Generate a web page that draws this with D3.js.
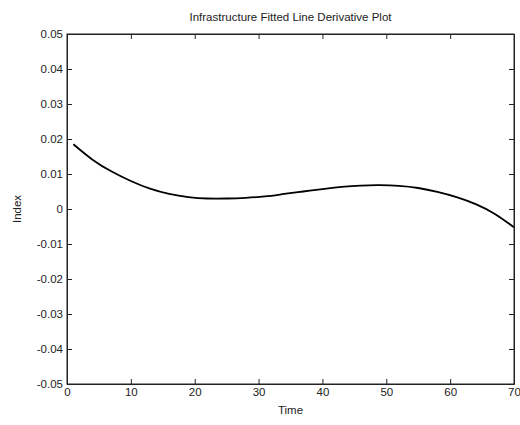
<!DOCTYPE html>
<html>
<head>
<meta charset="utf-8">
<script src="https://cdn.jsdelivr.net/npm/d3@7"></script>
<style>
  body { margin: 0; background: #fff; }
  text { font-family: "Liberation Sans", Arial, sans-serif; fill: #222; }
</style>
</head>
<body>
<svg></svg>
<script>
// values
let times = [1, 4, 7, 10, 13, 16, 19, 22, 25, 28, 31, 34, 37, 40, 43, 46, 49, 52, 55, 58, 61, 64, 67, 70];
let index = [0.0185, 0.0141, 0.0107, 0.0080, 0.0058, 0.0043, 0.0034, 0.0030, 0.0030, 0.0032, 0.0036, 0.0043,
             0.0050, 0.0057, 0.0063, 0.0067, 0.0068, 0.0066, 0.0060, 0.0049, 0.0034, 0.0014, -0.0014, -0.0052];
let xTicks = [0, 10, 20, 30, 40, 50, 60, 70];
let yTicks = [-0.05, -0.04, -0.03, -0.02, -0.01, 0, 0.01, 0.02, 0.03, 0.04, 0.05];

let width = 520;
let height = 425;
let padLeft = 67, padRight = 514, padTop = 34, padBottom = 384;

let svg = d3.select("svg").attr("width", width).attr("height", height);

let xScale = d3.scaleLinear().domain([0, 70]).range([padLeft, padRight]);
let yScale = d3.scaleLinear().domain([-0.05, 0.05]).range([padBottom, padTop]);

// plain hyphen minus like the reference
let fmt = (d) => d === 0 ? "0" : d.toFixed(2);

let drawAxes = () => {
    svg.append("g")
       .attr("transform", "translate(0," + padBottom + ")")
       .call(d3.axisBottom(xScale).tickValues(xTicks).tickSize(-5).tickPadding(4).tickSizeOuter(0))
    svg.append("g")
       .attr("transform", "translate(0," + padTop + ")")
       .call(d3.axisTop(xScale).tickValues(xTicks).tickSize(-5).tickFormat("").tickSizeOuter(0))
    svg.append("g")
       .attr("transform", "translate(" + padLeft + ",0)")
       .call(d3.axisLeft(yScale).tickValues(yTicks).tickFormat(fmt).tickSize(-5).tickPadding(4).tickSizeOuter(0))
    svg.append("g")
       .attr("transform", "translate(" + padRight + ",0)")
       .call(d3.axisRight(yScale).tickValues(yTicks).tickFormat("").tickSize(-5).tickSizeOuter(0))

    svg.selectAll(".tick text").style("font-size", "11.5px").style("font-family", "Liberation Sans, Arial, sans-serif").attr("fill", "#222")
    svg.selectAll(".domain, .tick line").attr("stroke", "#222")

    svg.append("rect")
       .attr("x", padLeft).attr("y", padTop)
       .attr("width", padRight - padLeft).attr("height", padBottom - padTop)
       .attr("fill", "none").attr("stroke", "#222")
}

let drawLine = () => {
    let line = d3.line()
                 .x((d, i) => xScale(times[i]))
                 .y((d) => yScale(d))
                 .curve(d3.curveNatural)
    svg.append("path")
       .datum(index)
       .attr("d", line)
       .attr("fill", "none")
       .attr("stroke", "#000")
       .attr("stroke-width", 1.8)
}

let drawLabels = () => {
    svg.append("text")
       .attr("x", (padLeft + padRight) / 2).attr("y", 21)
       .attr("text-anchor", "middle").style("font-size", "11.5px")
       .text("Infrastructure Fitted Line Derivative Plot")
    svg.append("text")
       .attr("x", (padLeft + padRight) / 2).attr("y", 414)
       .attr("text-anchor", "middle").style("font-size", "11.5px")
       .text("Time")
    svg.append("text")
       .attr("transform", "translate(21," + ((padTop + padBottom) / 2) + ") rotate(-90)")
       .attr("text-anchor", "middle").style("font-size", "11.5px")
       .text("Index")
}

drawLine()
drawAxes()
drawLabels()
</script>
</body>
</html>
